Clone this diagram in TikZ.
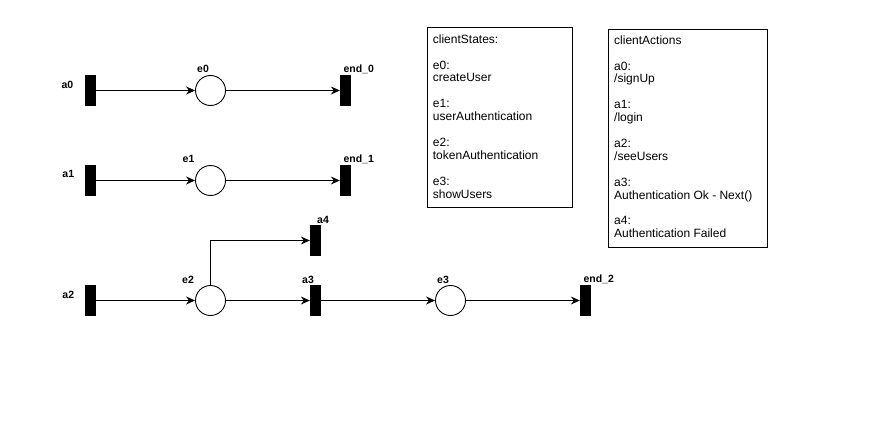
\documentclass[tikz,border=0pt]{standalone}
\usepackage{fontspec}
\setmainfont{Liberation Sans}
\usetikzlibrary{arrows.meta}
\begin{document}
\begin{tikzpicture}[x=1pt,y=-1pt,
  bar/.style={fill=black,draw=none,minimum width=10.5pt,minimum height=30.5pt,inner sep=0pt},
  place/.style={circle,draw=black,line width=0.9pt,minimum size=30pt,inner sep=0pt},
  lbl/.style={font=\fontsize{10.5}{12}\selectfont\bfseries,anchor=base,inner sep=0pt},
  arc/.style={line width=1pt,-{Stealth[length=9pt,width=8pt,inset=3pt]}},
  infobox/.style={draw=black,line width=0.9pt,anchor=north west,inner sep=0pt},
  infotext/.style={font=\fontsize{12}{12.9}\selectfont,align=left,anchor=north west,inner sep=0pt}]
\useasboundingbox (0,0) rectangle (877,420);
% row 1
\node[bar] (a0) at (90.3,90.5) {};
\node[place] (e0) at (210.5,90.5) {};
\node[bar] (end0) at (345.3,90.5) {};
% row 2
\node[bar] (a1) at (90.3,180.5) {};
\node[place] (e1) at (210.5,180.5) {};
\node[bar] (end1) at (345.3,180.5) {};
% row 3
\node[bar] (a2) at (90.3,300.5) {};
\node[place] (e2) at (210.5,300.5) {};
\node[bar] (a3) at (315.3,300.5) {};
\node[place] (e3) at (450.5,300.5) {};
\node[bar] (end2) at (585.3,300.5) {};
\node[bar] (a4) at (315.3,240.5) {};
% labels
\node[lbl] (la0) at (67.5,88.3) {a0};
\node[lbl] (la1) at (68.3,177.5) {a1};
\node[lbl] (la2) at (68.3,298) {a2};
\node[lbl] (le0) at (203,72.5) {e0};
\node[lbl] (le1) at (188.5,162.8) {e1};
\node[lbl] (le2) at (188,283) {e2};
\node[lbl] (le3) at (443,283) {e3};
\node[lbl] (la3) at (308,283) {a3};
\node[lbl] (la4) at (323,223) {a4};
\node[lbl] (lend0) at (358.7,72) {end\_0};
\node[lbl] (lend1) at (358.7,162.5) {end\_1};
\node[lbl] (lend2) at (598.7,282.5) {end\_2};
% arcs
\draw[arc] (a0) -- (e0);
\draw[arc] (e0) -- (end0);
\draw[arc] (a1) -- (e1);
\draw[arc] (e1) -- (end1);
\draw[arc] (a2) -- (e2);
\draw[arc] (e2) -- (a3);
\draw[arc] (a3) -- (e3);
\draw[arc] (e3) -- (end2);
\draw[arc] (e2.north) |- (a4.west);
% info boxes
\node[infobox,minimum width=145pt,minimum height=180pt] (states) at (427,27) {};
\node[infotext] (statestext) at (432.7,34) {\vrule height 9pt depth 0pt width 0pt clientStates:\\[12.9pt]e0:\\createUser\\[12.9pt]e1:\\userAuthentication\\[12.9pt]e2:\\tokenAuthentication\\[12.9pt]e3:\\showUsers};
\node[infobox,minimum width=159pt,minimum height=218pt] (actions) at (608,29) {};
\node[infotext] (actionstext) at (614,35) {\vrule height 9pt depth 0pt width 0pt clientActions\\[12.9pt]a0:\\/signUp\\[12.9pt]a1:\\/login\\[12.9pt]a2:\\/seeUsers\\[12.9pt]a3:\\Authentication Ok - Next()\\[12.9pt]a4:\\Authentication Failed};
\end{tikzpicture}
\end{document}
